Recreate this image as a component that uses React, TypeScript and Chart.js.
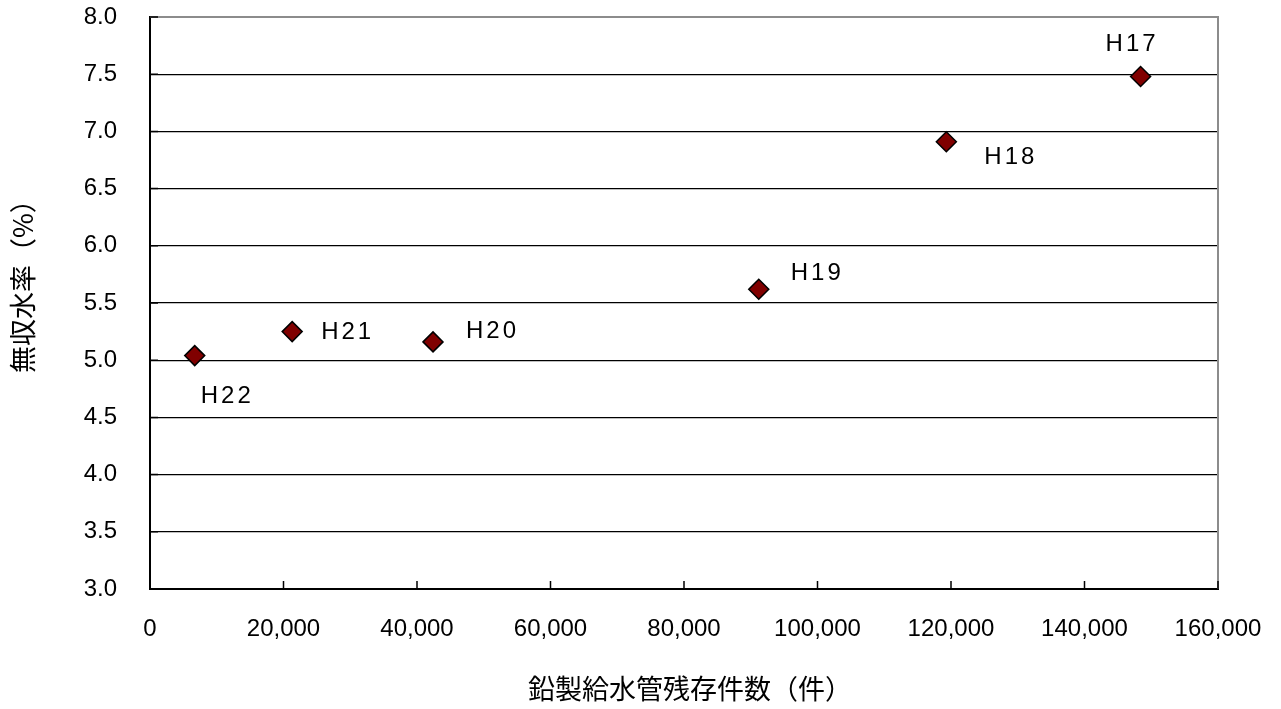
import React, { useEffect, useRef } from 'react';
import { Chart, registerables } from 'chart.js';

Chart.register(...registerables);

// ---- data ----
const yearLabels = ['H17', 'H18', 'H19', 'H20', 'H21', 'H22'];
const leadPipeCounts = [148400, 119300, 91200, 42400, 21300, 6700];
const unaccountedRates = [7.48, 6.91, 5.62, 5.16, 5.25, 5.04];

const xMin = 0;
const xMax = 160000;
const xStep = 20000;
const yMin = 3.0;
const yMax = 8.0;
const yStep = 0.5;

const xAxisTitle = '鉛製給水管残存件数（件）';
const yAxisTitle = '無収水率（%）';

// label placement relative to each point (styling)
const labelOffsets: [number, number][] = [
  [-10, -34],
  [63, 14],
  [57, -18],
  [58, -12],
  [54, -1],
  [31, 39],
];

const LATIN = '"Liberation Sans", Arial, sans-serif';
const CJK = '"Noto Sans CJK JP", sans-serif';

const decorPlugin = {
  id: 'decor',
  beforeDatasetsDraw(chart: any) {
    const { ctx, chartArea, scales } = chart;
    const { left, right, top, bottom } = chartArea;
    ctx.save();
    ctx.strokeStyle = '#8c8c8c';
    ctx.lineWidth = 2;
    ctx.beginPath();
    ctx.moveTo(left, top);
    ctx.lineTo(right, top);
    ctx.lineTo(right, bottom);
    ctx.stroke();

    ctx.strokeStyle = '#000';
    ctx.lineWidth = 1.5;
    ctx.beginPath();
    scales.y.ticks.forEach((t: any) => {
      const y = scales.y.getPixelForValue(t.value);
      ctx.moveTo(left, y);
      ctx.lineTo(left + 8, y);
    });
    scales.x.ticks.forEach((t: any) => {
      const x = scales.x.getPixelForValue(t.value);
      ctx.moveTo(x, bottom);
      ctx.lineTo(x, bottom - 8);
    });
    ctx.stroke();
    ctx.restore();
  },
  afterDatasetsDraw(chart: any) {
    const { ctx } = chart;
    const meta = chart.getDatasetMeta(0);
    ctx.save();
    ctx.font = `24px ${LATIN}`;
    ctx.fillStyle = '#000';
    ctx.textAlign = 'center';
    ctx.textBaseline = 'alphabetic';
    (ctx as any).letterSpacing = '3px';
    meta.data.forEach((el: any, i: number) => {
      const [dx, dy] = labelOffsets[i];
      ctx.fillText(yearLabels[i], el.x + dx + 1.5, el.y + dy + 8.5);
    });
    ctx.restore();
  },
  afterDraw(chart: any) {
    const { ctx, chartArea } = chart;
    ctx.save();
    ctx.fillStyle = '#000';
    ctx.font = `27px ${CJK}`;
    ctx.textBaseline = 'middle';
    // x-axis title
    ctx.textAlign = 'left';
    ctx.fillText(xAxisTitle, chartArea.left + 378, 689);
    // y-axis title
    ctx.translate(23, chartArea.bottom - 216);
    ctx.rotate(-Math.PI / 2);
    ctx.fillText(yAxisTitle, 0, 0);
    ctx.restore();
  },
};

export default function App() {
  const canvasRef = useRef<HTMLCanvasElement | null>(null);

  useEffect(() => {
    if (!canvasRef.current) return;
    const points = leadPipeCounts.map((x, i) => ({ x, y: unaccountedRates[i] }));
    const chart = new Chart(canvasRef.current, {
      type: 'scatter',
      data: {
        datasets: [
          {
            label: '無収水率',
            data: points,
            pointStyle: 'rectRot',
            pointRadius: 10,
            pointHoverRadius: 10,
            backgroundColor: '#800000',
            borderColor: '#000',
            borderWidth: 1.5,
            showLine: false,
          },
        ],
      },
      options: {
        responsive: false,
        animation: false,
        devicePixelRatio: 1,
        layout: { padding: { top: 17, right: 63, bottom: 0, left: 0 } },
        plugins: {
          legend: { display: false },
          tooltip: { enabled: false },
        },
        scales: {
          x: {
            type: 'linear',
            min: xMin,
            max: xMax,
            ticks: {
              stepSize: xStep,
              padding: 26,
              color: '#000',
              font: { family: LATIN, size: 24 },
              maxRotation: 0,
              callback: (v: any) => Number(v).toLocaleString('en-US'),
            },
            grid: { display: false, drawTicks: false },
            border: { display: true, color: '#000', width: 2 },
            afterFit: (scale: any) => {
              scale.height = 120;
              scale.paddingLeft = 0;
              scale.paddingRight = 0;
            },
          },
          y: {
            type: 'linear',
            min: yMin,
            max: yMax,
            ticks: {
              stepSize: yStep,
              padding: 33,
              color: '#000',
              font: { family: LATIN, size: 24 },
              callback: (v: any) => Number(v).toFixed(1),
            },
            grid: {
              display: true,
              drawTicks: false,
              lineWidth: 1.2,
              color: (c: any) => (c.tick && c.tick.value === yMax ? 'rgba(0,0,0,0)' : '#000'),
            },
            border: { display: true, color: '#000', width: 2 },
            afterFit: (scale: any) => {
              scale.width = 150;
              scale.paddingTop = 0;
              scale.paddingBottom = 0;
            },
          },
        },
      },
      plugins: [decorPlugin],
    });
    return () => chart.destroy();
  }, []);

  return (
    <div style={{ position: 'fixed', left: 0, top: 0, width: 1281, height: 709, background: '#fff' }}>
      <canvas ref={canvasRef} width={1281} height={709} style={{ display: 'block' }} />
    </div>
  );
}
